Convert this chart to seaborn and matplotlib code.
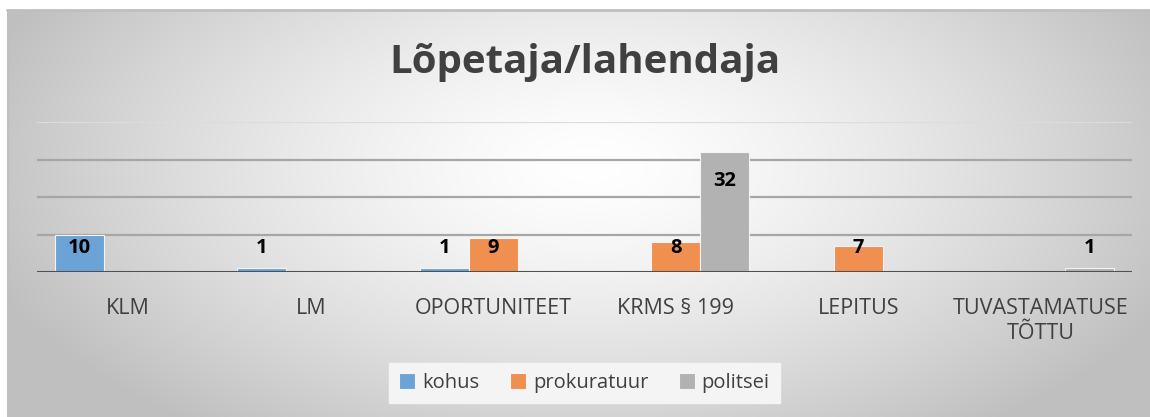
import numpy as np
import pandas as pd
import matplotlib
matplotlib.use("Agg")
import matplotlib.pyplot as plt
import seaborn as sns

categories = ["KLM", "LM", "OPORTUNITEET", "KRMS § 199", "LEPITUS", "TUVASTAMATUSE\nTÕTTU"]
series = ["kohus", "prokuratuur", "politsei"]
kohus = [10, 1, 1, np.nan, np.nan, np.nan]
prokuratuur = [np.nan, np.nan, 9, 8, 7, np.nan]
politsei = [np.nan, np.nan, np.nan, 32, np.nan, 1]
colors = ["#6CA3D6", "#EF8F50", "#B2B2B2"]

rows = []
for name, vals in zip(series, [kohus, prokuratuur, politsei]):
    for c, v in zip(categories, vals):
        rows.append({"cat": c, "series": name, "value": v})
df = pd.DataFrame(rows)

sns.set_theme(style="white")
plt.rcParams["font.family"] = ["Open Sans", "DejaVu Sans"]

W, H = 1150, 417
fig = plt.figure(figsize=(W / 100, H / 100), dpi=100)
fig.patch.set_facecolor("white")

# background panel with radial gradient
bg = fig.add_axes([7 / W, 0, 1 - 7 / W, (H - 10) / H])
bg.set_axis_off()
yy, xx = np.mgrid[10:H, 7:W]
t = np.sqrt(((xx - 590) / 640.0) ** 2 + ((yy - 165) / 330.0) ** 2)
t = np.clip(t, 0, 1) ** 1.4
g = 1 - 0.25 * t
img = np.dstack([g, g, g])
bg.imshow(img, aspect="auto", extent=[0, 1, 0, 1], interpolation="bilinear")
bg.plot([0, 1], [0.999, 0.999], color="#bfbfbf", lw=2, transform=bg.transAxes, clip_on=False)
bg.plot([0.0005, 0.0005], [0, 1], color="#bfbfbf", lw=1.5, transform=bg.transAxes, clip_on=False)

ax = fig.add_axes([37 / W, 1 - 272 / H, (1132 - 37) / W, (272 - 122) / H])
ax.patch.set_alpha(0)
sns.barplot(data=df, x="cat", y="value", hue="series", hue_order=series,
            palette=colors, width=0.806, gap=0, ax=ax, edgecolor="#f4f4f4",
            linewidth=0.8, legend=True, saturation=1, zorder=3)
ax.set_ylim(0, 40)
ax.set_xlim(-0.5, len(categories) - 0.5)
ax.set_yticks([10, 20, 30])
for yv in [10, 20, 30]:
    ax.axhline(yv, color="#a6a6a6", lw=1.6, zorder=0)
ax.axhline(40, color="#dcdcdc", lw=1.6, zorder=0)
ax.axhline(0, color="#505050", lw=2.2, zorder=5)
for s in ax.spines.values():
    s.set_visible(False)
ax.set_yticklabels([])
ax.tick_params(axis="y", length=0)
ax.tick_params(axis="x", length=0, pad=19, labelsize=15.5, labelcolor="#404040")
ax.set_xlabel("")
ax.set_ylabel("")

for cont in ax.containers:
    for bar, v in zip(cont, cont.datavalues):
        if np.isnan(v):
            continue
        cx = bar.get_x() + bar.get_width() / 2
        ax.text(cx, max(v, 14.1) - 7.8, f"{int(v)}", ha="center", va="center",
                fontsize=14.5, fontweight="bold", color="black", zorder=6)

leg = ax.legend(loc="center", bbox_to_anchor=(0.5, (H - 383 - (H - 272)) / 150.0),
                ncol=3, frameon=True, fancybox=False, fontsize=14.5, handlelength=0.8,
                handleheight=0.8, columnspacing=1.5, handletextpad=0.35, borderpad=0.5)
leg.get_frame().set_facecolor("#f4f4f4")
leg.get_frame().set_edgecolor("#f4f4f4")
leg.get_frame().set_alpha(1)
for txt in leg.get_texts():
    txt.set_color("#404040")

fig.text(585 / W, 1 - 63 / H, "Lõpetaja/lahendaja", ha="center", va="center",
         fontsize=29, fontweight="bold", color="#404040")

fig.savefig("out.png", dpi=100)
